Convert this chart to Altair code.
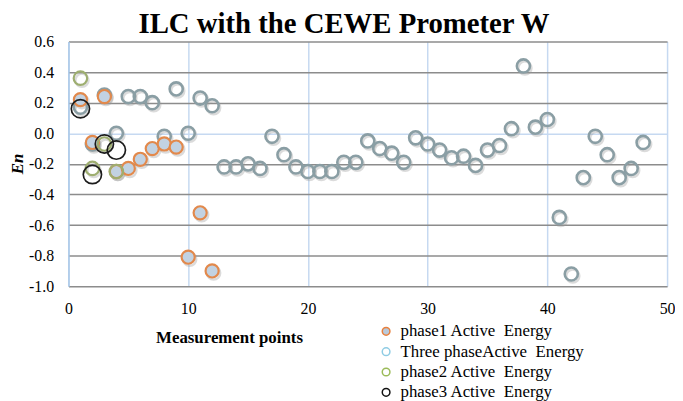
import altair as alt
import pandas as pd

# ---- data ----
x_three = list(range(1, 49))
three_phase = [0.17, -0.07, 0.25, 0.00, 0.24, 0.24, 0.20, -0.02, 0.29, 0.00, 0.23, 0.18,
               -0.22, -0.22, -0.20, -0.23, -0.02, -0.14, -0.22, -0.25, -0.25, -0.25, -0.19, -0.19,
               -0.05, -0.10, -0.13, -0.19, -0.03, -0.07, -0.11, -0.16, -0.15, -0.21, -0.11, -0.08,
               0.03, 0.44, 0.04, 0.09, -0.55, -0.92, -0.29, -0.02, -0.14, -0.29, -0.23, -0.06]
x_phase1 = list(range(1, 13))
phase1 = [0.22, -0.06, 0.24, -0.25, -0.23, -0.17, -0.10, -0.07, -0.09, -0.81, -0.52, -0.90]
x_phase2 = [1, 2, 3, 4]
phase2 = [0.36, -0.23, -0.07, -0.25]
x_phase3 = [1, 2, 3, 4]
phase3 = [0.16, -0.27, -0.07, -0.11]

series_names = ["\u00a0phase1 Active\u00a0 Energy",
                "Three phaseActive\u00a0 Energy",
                "\u00a0phase2 Active\u00a0 Energy",
                "\u00a0phase3 Active\u00a0 Energy"]
x_ticks = [0, 10, 20, 30, 40, 50]
y_ticks = [-1.0, -0.8, -0.6, -0.4, -0.2, 0.0, 0.2, 0.4, 0.6]

rows = []
for name, xs, ys in [(series_names[0], x_phase1, phase1),
                     (series_names[1], x_three, three_phase),
                     (series_names[2], x_phase2, phase2),
                     (series_names[3], x_phase3, phase3)]:
    for a, b in zip(xs, ys):
        rows.append({"x": a, "y": b, "series": name})
df = pd.DataFrame(rows)

FONT = "Liberation Serif"

x_enc = alt.X("x:Q", scale=alt.Scale(domain=[0, 50], nice=False),
              axis=alt.Axis(values=x_ticks, grid=True, gridColor="#c6d9f1", gridWidth=1.5,
                            domain=False, ticks=False, labelFont=FONT, labelFontSize=16,
                            labelColor="black", labelPadding=14, labelFlush=False,
                            title="Measurement points", titleFont=FONT, titleFontSize=17,
                            titleFontWeight="bold", titleColor="black", titleX=162, titleY=57,
                            titleBaseline="alphabetic", titleAlign="center"))
y_enc = alt.Y("y:Q", scale=alt.Scale(domain=[-1.0, 0.6], nice=False),
              axis=alt.Axis(values=y_ticks, grid=True,
                            gridColor={"condition": {"test": "abs(datum.value) < 1e-9", "value": "#c6d9f1"},
                                       "value": "#8c8c8c"},
                            gridWidth=1.5, domain=True, domainColor="#a9c8e8", domainWidth=1.5,
                            ticks=False, labelFont=FONT, labelFontSize=16, labelColor="black",
                            labelPadding=15,
                            labelExpr="(datum.value < -1e-9 ? '-' : '') + format(abs(datum.value), '.1f')",
                            title="En", titleFont=FONT, titleFontSize=17, titleFontWeight="bold",
                            titleFontStyle="italic", titleColor="black", titleX=-51, titleY=123,
                            titleAngle=270, titleAlign="center", titleBaseline="middle"))

legend_def = alt.Legend(orient="none", legendX=312, legendY=284, title=None,
                        labelFont=FONT, labelFontSize=17, labelColor="black", labelLimit=400,
                        symbolType="circle", symbolSize=60, symbolStrokeWidth=1.5,
                        symbolOpacity=1, rowPadding=2.5, labelOffset=6, padding=0)

legend_layer = alt.Chart(df).mark_point(shape="circle", opacity=0).encode(
    x=x_enc, y=y_enc,
    stroke=alt.Stroke("series:N", scale=alt.Scale(domain=series_names,
                      range=["#e8803d", "#8fcce4", "#9bbb59", "#111111"]), legend=legend_def),
    fill=alt.Fill("series:N", scale=alt.Scale(domain=series_names,
                  range=["#b9c9da", "transparent", "transparent", "transparent"]), legend=legend_def),
)

base = alt.Chart(df).encode(x=x_enc, y=y_enc)

shadow = base.transform_filter(alt.datum.series != series_names[3]).mark_point(
    shape="circle", filled=False, size=175, strokeWidth=2.5, stroke="#9a9a9a",
    opacity=0.35, xOffset=1.5, yOffset=2)

three_layer = base.transform_filter(alt.datum.series == series_names[1]).mark_point(
    shape="circle", filled=False, size=175, strokeWidth=2.6, stroke="#8a9ea4", opacity=1)

p1_layer = base.transform_filter(alt.datum.series == series_names[0]).mark_point(
    shape="circle", filled=True, size=175, strokeWidth=2.2, fill="#c2d2e2", stroke="#e2894c",
    opacity=1)

p2_layer = base.transform_filter(alt.datum.series == series_names[2]).mark_point(
    shape="circle", filled=False, size=185, strokeWidth=2.2, stroke="#9eae70", opacity=1)

p3_layer = base.transform_filter(alt.datum.series == series_names[3]).mark_point(
    shape="circle", filled=False, size=340, strokeWidth=1.7, stroke="#1c1c1c", opacity=1)

chart = alt.layer(legend_layer, shadow, three_layer, p1_layer, p2_layer, p3_layer).properties(
    width=604, height=247,
    autosize=alt.AutoSizeParams(type="none"),
    padding={"left": 61, "top": 32, "right": 8, "bottom": 114},
    title=alt.TitleParams("ILC with the CEWE Prometer W", font=FONT, fontSize=29,
                          fontWeight="bold", color="black", anchor="middle", frame="group",
                          offset=8, baseline="alphabetic", dx=-24, dy=36),
).configure_view(strokeWidth=0)

chart.save("out.html", embed_options={"renderer": "svg", "actions": False})
